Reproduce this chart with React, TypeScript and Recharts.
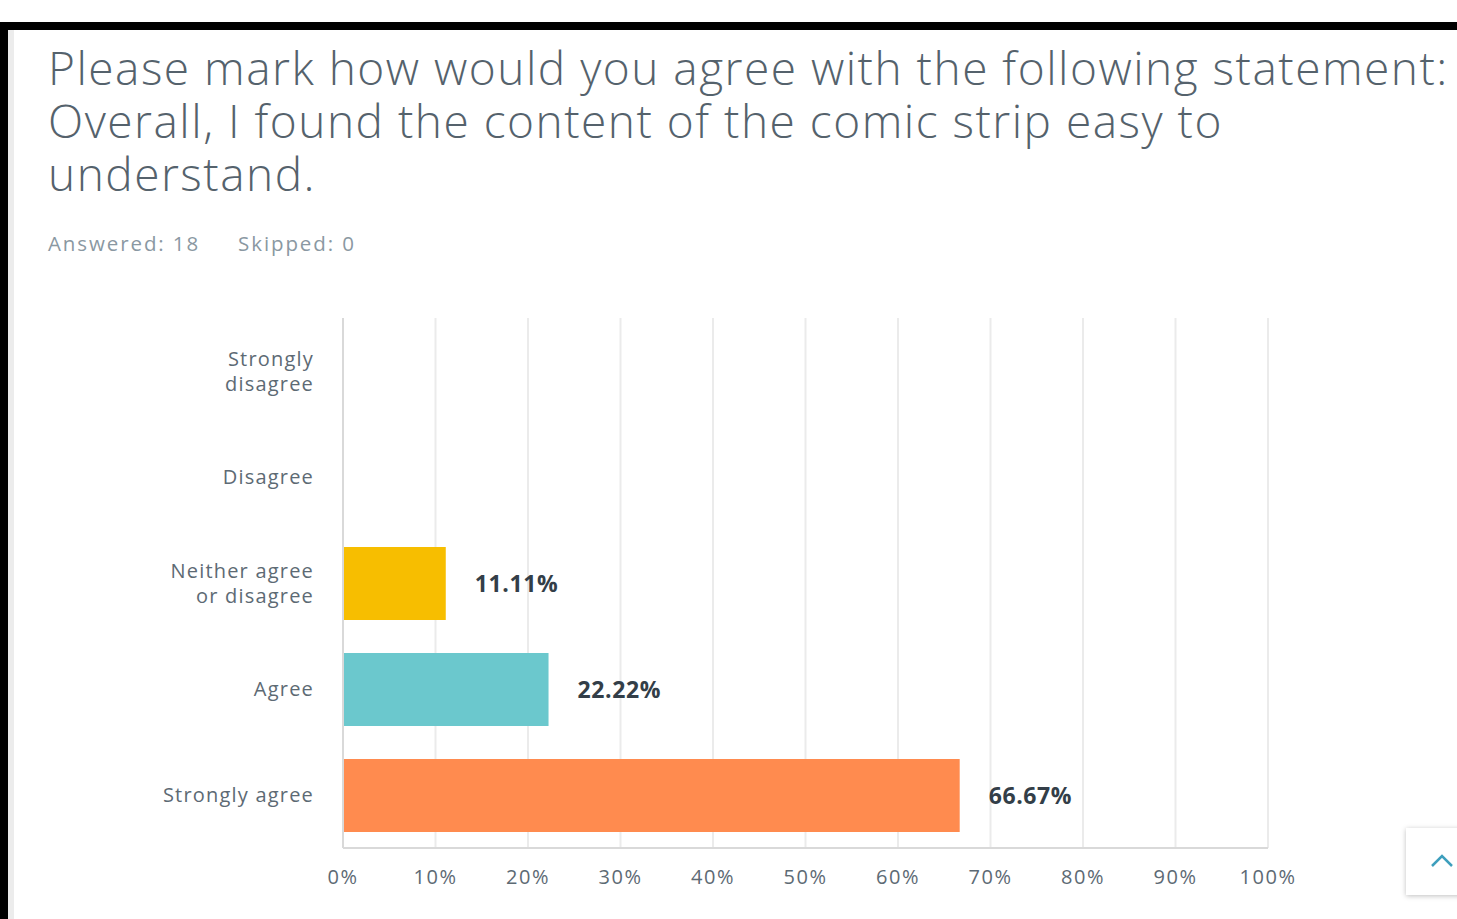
import React from "react";
import { BarChart, Bar, XAxis, YAxis, CartesianGrid, LabelList, Cell } from "recharts";

const categories = ["Strongly disagree", "Disagree", "Neither agree or disagree", "Agree", "Strongly agree"];
const categoryLines = [["Strongly", "disagree"], ["Disagree"], ["Neither agree", "or disagree"], ["Agree"], ["Strongly agree"]];
const percentages = [0, 0, 11.11, 22.22, 66.67];
const barColors = ["#6bc8cd", "#6bc8cd", "#f7be00", "#6bc8cd", "#ff8b4f"];
const xTicks = [0, 10, 20, 30, 40, 50, 60, 70, 80, 90, 100];

const titleLines = [
  "Please mark how would you agree with the following statement:",
  "Overall, I found the content of the comic strip easy to",
  "understand.",
];
const answeredText = "Answered: 18";
const skippedText = "Skipped: 0";

const data = categories.map((c, i) => ({ name: c, value: percentages[i], idx: i }));

const FONT = "'Open Sans', 'DejaVu Sans', sans-serif";

const YTick = (props: any) => {
  const { x, y, payload } = props;
  const idx = categories.indexOf(payload.value);
  const lines = categoryLines[idx] || [payload.value];
  const lh = 25;
  const start = -((lines.length - 1) * lh) / 2;
  return (
    <text x={x} y={y} textAnchor="end" fill="#5d6a74" fontSize={20} letterSpacing={1.2} fontFamily={FONT}>
      {lines.map((l, i) => (
        <tspan key={i} x={x} y={y + start + i * lh} dy="0.35em">
          {l}
        </tspan>
      ))}
    </text>
  );
};

const renderLabel = (props: any) => {
  const { x, y, width, height, value } = props;
  if (!value) return null;
  return (
    <text
      x={x + width + 29}
      y={y + height / 2}
      dy="0.35em"
      fill="#333e48"
      fontSize={23}
      letterSpacing={0.6}
      fontWeight={700}
      fontFamily={FONT}
    >
      {value.toFixed(2) + "%"}
    </text>
  );
};

export default function App() {
  return (
    <div style={{ position: "absolute", left: 0, top: 0, width: 1457, height: 919, background: "#fff", overflow: "hidden" }}>
      <div style={{ position: "absolute", left: 0, top: 22, width: 1457, height: 8, background: "#000" }} />
      <div style={{ position: "absolute", left: 0, top: 22, width: 8, height: 897, background: "#000" }} />
      <div style={{ position: "absolute", left: 8, top: 30, width: 6, height: 889, background: "#ececec" }} />
      <div
        style={{
          position: "absolute",
          left: 48,
          top: 41,
          fontFamily: FONT,
          fontWeight: 300,
          fontSize: 46,
          letterSpacing: 1.5,
          lineHeight: "53px",
          color: "#55626c",
          whiteSpace: "nowrap",
        }}
      >
        {titleLines.map((t, i) => (
          <div key={i}>{t}</div>
        ))}
      </div>
      <div
        style={{
          position: "absolute",
          left: 48,
          top: 229,
          fontFamily: FONT,
          fontSize: 20.5,
          letterSpacing: 1.9,
          color: "#8a98a2",
          whiteSpace: "nowrap",
        }}
      >
        <span>{answeredText}</span>
        <span style={{ marginLeft: 38 }}>{skippedText}</span>
      </div>
      <div style={{ position: "absolute", left: 0, top: 0 }}>
        <BarChart
          width={1457}
          height={919}
          data={data}
          layout="vertical"
          margin={{ top: 318, right: 189, bottom: 31, left: 0 }}
          barSize={73}
        >
          <CartesianGrid horizontal={false} stroke="#ebebeb" strokeWidth={2} />
          <XAxis
            type="number"
            domain={[0, 100]}
            ticks={xTicks}
            tickFormatter={(v: number) => `${v}%`}
            height={40}
            tickSize={0}
            tickMargin={22}
            axisLine={{ stroke: "#d9d9d9", strokeWidth: 2 }}
            tickLine={false}
            tick={{ fill: "#5d6a74", fontSize: 20, letterSpacing: 1.5, fontFamily: FONT }}
          />
          <YAxis
            type="category"
            dataKey="name"
            width={343}
            tickSize={0}
            tickMargin={29}
            axisLine={{ stroke: "#d9d9d9", strokeWidth: 2 }}
            tickLine={false}
            tick={<YTick />}
            interval={0}
          />
          <Bar dataKey="value" isAnimationActive={false}>
            {data.map((d, i) => (
              <Cell key={i} fill={barColors[i]} />
            ))}
            <LabelList dataKey="value" content={renderLabel} />
          </Bar>
        </BarChart>
      </div>
      <div
        style={{
          position: "absolute",
          left: 1406,
          top: 828,
          width: 70,
          height: 67,
          background: "#fff",
          boxShadow: "0 1px 5px rgba(0,0,0,0.25)",
        }}
      >
        <svg width={40} height={67} style={{ position: "absolute", left: 22, top: 0 }}>
          <polyline points="4,38 14,28 24,38" fill="none" stroke="#3e9fbd" strokeWidth={2.5} />
        </svg>
      </div>
    </div>
  );
}
